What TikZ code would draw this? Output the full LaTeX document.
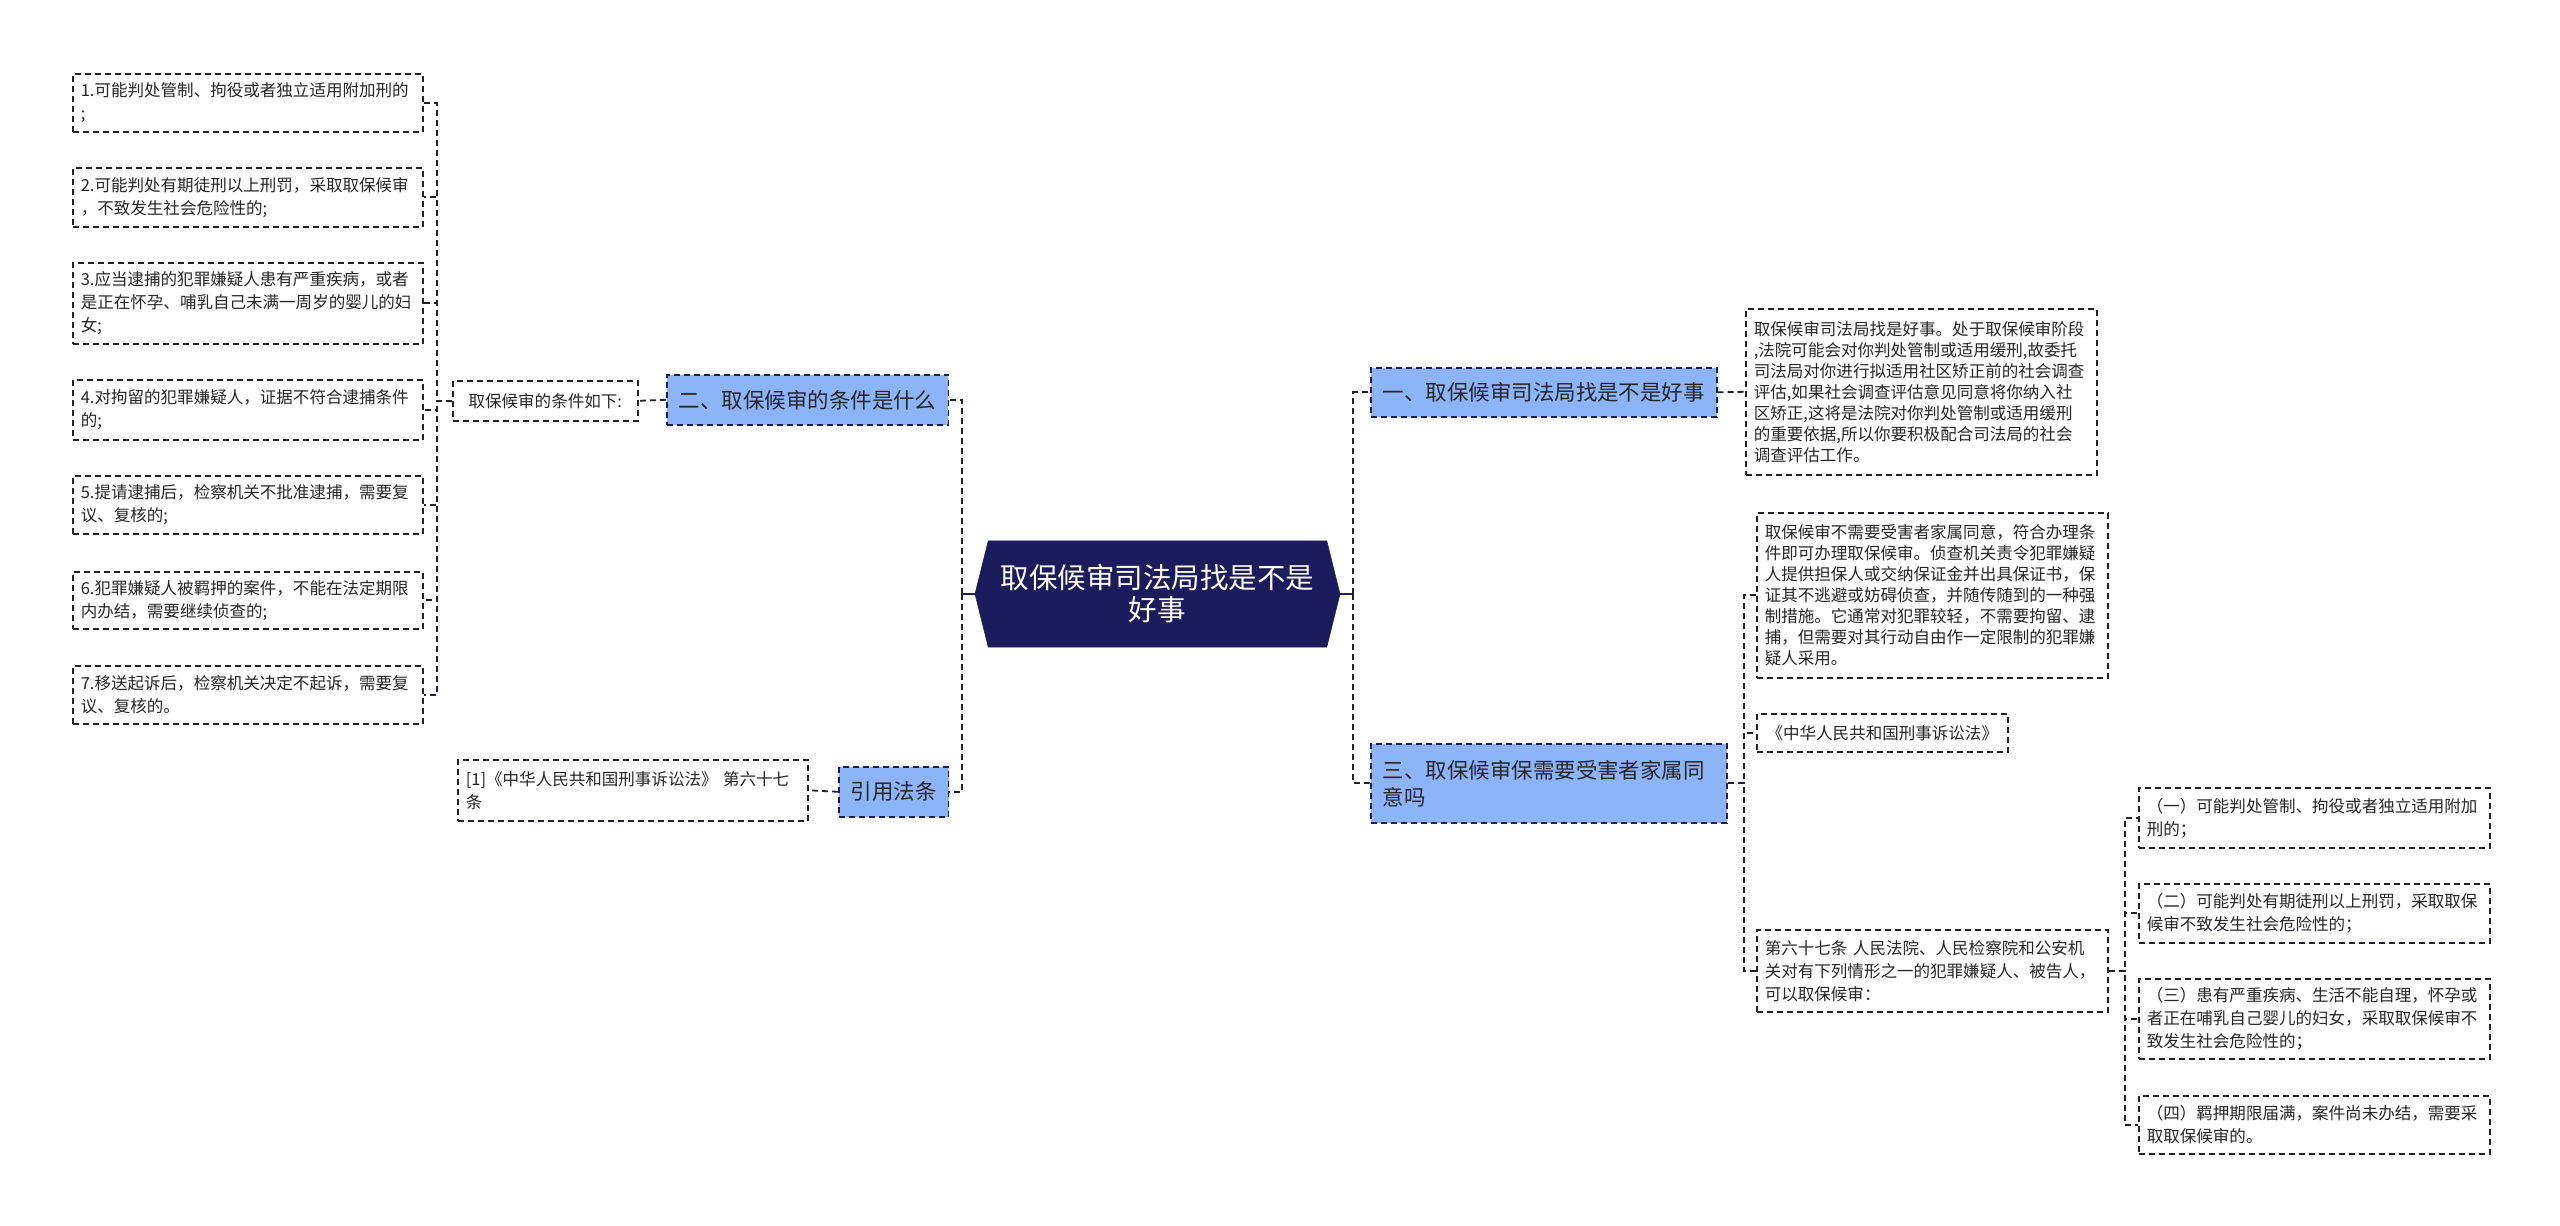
\documentclass[tikz,border=0pt]{standalone}
\usepackage{fontspec}
\setmainfont{Noto Sans CJK SC}
\usetikzlibrary{shapes.symbols}
\definecolor{navy}{HTML}{1C1C5C}
\definecolor{topicblue}{HTML}{8CB4F9}
\definecolor{linegray}{HTML}{22222E}
\tikzset{
  link/.style={draw=linegray, line width=1.35pt, dash pattern=on 4.5pt off 3pt},
  stub/.style={draw=navy, line width=1.35pt},
  leaf/.style={draw=linegray, line width=1.2pt, dash pattern=on 4.5pt off 3pt, anchor=north west,
    align=left, text width=250.5pt, inner xsep=6pt, inner ysep=0pt, text=black!85,
    font=\fontsize{12.4pt}{17.25pt}\selectfont},
  dense/.style={font=\fontsize{12.4pt}{15.75pt}\selectfont},
  topic/.style={draw=navy, fill=topicblue, line width=1.2pt, dash pattern=on 4.5pt off 3pt,
    anchor=north west, inner xsep=9pt, inner ysep=0pt, text=black!85,
    font=\fontsize{16.1pt}{20.25pt}\selectfont},
  centre/.style={shape=signal, signal to=west and east, signal pointer angle=152,
    fill=navy, draw=navy, text=white, align=center, inner sep=0pt,
    minimum width=273.75pt, minimum height=79.5pt, font=\fontsize{21.4pt}{24pt}\selectfont}
}
\begin{document}
\begin{tikzpicture}[x=0.75pt,y=-0.75pt]
\useasboundingbox (0,0) rectangle (2560,1226);

\node[centre] (root) at (1157.5,594) {取保候审司法局找是不是\\好事};

\node[topic, minimum width=209.25pt, minimum height=37.5pt] (t2) at (666,374) {二、取保候审的条件是什么};
\node[topic, minimum width=80.25pt, minimum height=37.5pt] (tref) at (838,766) {引用法条};
\node[topic, minimum width=257.25pt, minimum height=36.75pt] (t1) at (1370,367) {一、取保候审司法局找是不是好事};
\node[topic, align=left, text width=249pt, minimum height=59.25pt] (t3) at (1370,743) {三、取保候审保需要受害者家属同\\意吗};

\node[leaf, text width=, minimum width=138.75pt, minimum height=30pt, align=center] (cond) at (452,380) {取保候审的条件如下:};
\node[leaf, minimum height=43.5pt] (l1) at (72,73) {1.可能判处管制、拘役或者独立适用附加刑的\\;};
\node[leaf, minimum height=44.25pt] (l2) at (72,167) {2.可能判处有期徒刑以上刑罚，采取取保候审\\，不致发生社会危险性的;};
\node[leaf, minimum height=60.75pt] (l3) at (72,262) {3.应当逮捕的犯罪嫌疑人患有严重疾病，或者\\是正在怀孕、哺乳自己未满一周岁的婴儿的妇\\女;};
\node[leaf, minimum height=45pt] (l4) at (72,379) {4.对拘留的犯罪嫌疑人，证据不符合逮捕条件\\的;};
\node[leaf, minimum height=43.5pt] (l5) at (72,475) {5.提请逮捕后，检察机关不批准逮捕，需要复\\议、复核的;};
\node[leaf, minimum height=42.75pt] (l6) at (72,571) {6.犯罪嫌疑人被羁押的案件，不能在法定期限\\内办结，需要继续侦查的;};
\node[leaf, minimum height=43.5pt] (l7) at (72,665) {7.移送起诉后，检察机关决定不起诉，需要复\\议、复核的。};
\node[leaf, minimum height=45.75pt] (ref) at (457,759) {[1]《中华人民共和国刑事诉讼法》 第六十七\\条};

\node[leaf, dense, text width=251.25pt, minimum height=124.5pt] (r1) at (1745,308) {取保候审司法局找是好事。处于取保候审阶段\\,法院可能会对你判处管制或适用缓刑,故委托\\司法局对你进行拟适用社区矫正前的社会调查\\评估,如果社会调查评估意见同意将你纳入社\\区矫正,这将是法院对你判处管制或适用缓刑\\的重要依据,所以你要积极配合司法局的社会\\调查评估工作。};
\node[leaf, dense, text width=251.25pt, minimum height=123.75pt] (r2) at (1756,512) {取保候审不需要受害者家属同意，符合办理条\\件即可办理取保候审。侦查机关责令犯罪嫌疑\\人提供担保人或交纳保证金并出具保证书，保\\证其不逃避或妨碍侦查，并随传随到的一种强\\制措施。它通常对犯罪较轻，不需要拘留、逮\\捕，但需要对其行动自由作一定限制的犯罪嫌\\疑人采用。};
\node[leaf, text width=, minimum width=188.25pt, minimum height=28.5pt, align=center] (r3) at (1756,713) {《中华人民共和国刑事诉讼法》};
\node[leaf, text width=251.25pt, minimum height=61.5pt] (r4) at (1756,929) {第六十七条 人民法院、人民检察院和公安机\\关对有下列情形之一的犯罪嫌疑人、被告人，\\可以取保候审：};

\node[leaf, text width=251.25pt, minimum height=45pt] (s1) at (2138,787) {（一）可能判处管制、拘役或者独立适用附加\\刑的；};
\node[leaf, text width=251.25pt, minimum height=44.25pt] (s2) at (2138,883) {（二）可能判处有期徒刑以上刑罚，采取取保\\候审不致发生社会危险性的；};
\node[leaf, text width=251.25pt, minimum height=60pt] (s3) at (2138,978) {（三）患有严重疾病、生活不能自理，怀孕或\\者正在哺乳自己婴儿的妇女，采取取保候审不\\致发生社会危险性的；};
\node[leaf, text width=251.25pt, minimum height=43.5pt] (s4) at (2138,1095) {（四）羁押期限届满，案件尚未办结，需要采\\取取保候审的。};

\draw[stub] (root.west) -- ++(-13,0);
\draw[link] (root.west) ++(-13,0) |- (t2.east);
\draw[link] (root.west) ++(-13,0) |- (tref.east);
\draw[stub] (root.east) -- ++(13,0);
\draw[link] (root.east) ++(13,0) |- (t1.west);
\draw[link] (root.east) ++(13,0) |- (t3.west);

\draw[link] (t2.west) -- (cond.east);
\foreach \i in {1,...,7}
  \draw[link] (cond.west) -- ++(-15,0) |- (l\i.east);
\draw[link] (tref.west) -- (ref.east);

\draw[link] (t1.east) -- (r1.west);
\foreach \i in {2,3,4}
  \draw[link] (t3.east) -- ++(16,0) |- (r\i.west);
\foreach \i in {1,...,4}
  \draw[link] (r4.east) -- ++(16,0) |- (s\i.west);
\end{tikzpicture}
\end{document}
